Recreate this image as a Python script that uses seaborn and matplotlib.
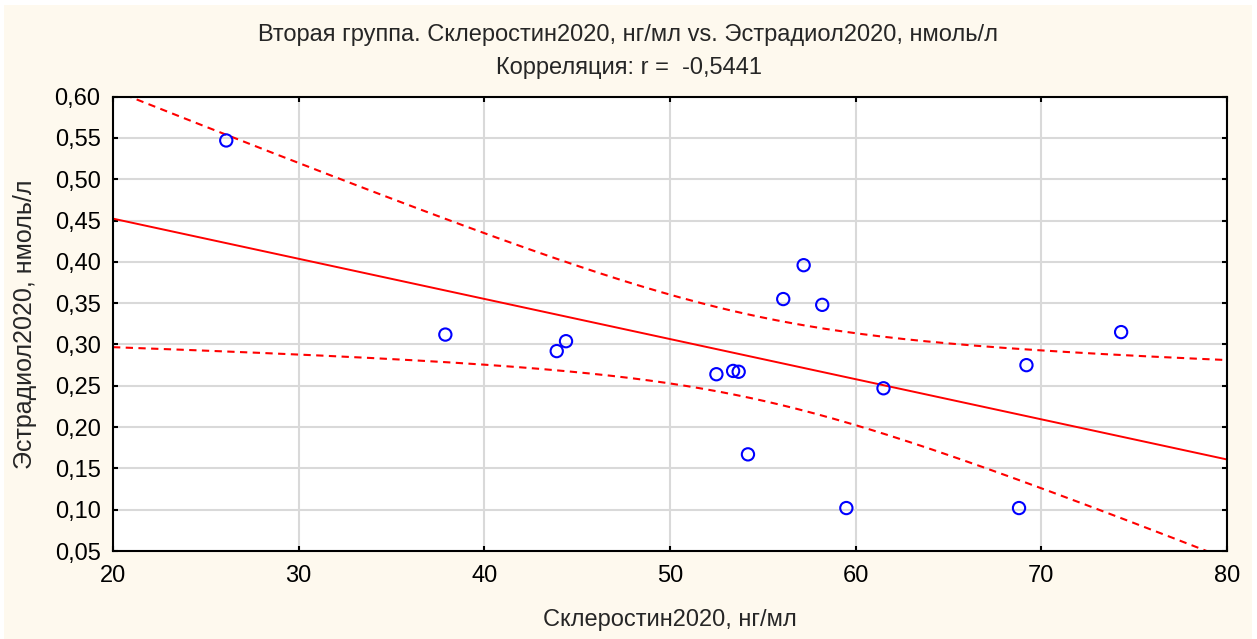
import matplotlib
matplotlib.use('Agg')
import matplotlib.pyplot as plt
import numpy as np
import pandas as pd
import seaborn as sns
from matplotlib.patches import Rectangle
from matplotlib.ticker import FuncFormatter, MultipleLocator

# values
sclerostin = [26.1, 37.9, 43.9, 44.4, 52.5, 53.4, 53.7, 54.2, 56.1, 57.2,
              58.2, 59.5, 61.5, 69.2, 68.8, 74.3]
estradiol = [0.547, 0.312, 0.292, 0.304, 0.264, 0.268, 0.267, 0.167, 0.355,
             0.396, 0.348, 0.102, 0.247, 0.275, 0.102, 0.315]
r_text = '-0,5441'
t_crit = 2.1448  # t(0.975, df=14)

df = pd.DataFrame({'x': sclerostin, 'y': estradiol})

sns.set_style('ticks')
plt.rcParams['font.family'] = ['Liberation Sans', 'DejaVu Sans']

fig = plt.figure(figsize=(12.57, 6.39), dpi=100)
fig.patch.set_facecolor('white')
fig.patches.append(Rectangle((4 / 1257, 0), 1248 / 1257, 634 / 639,
                             transform=fig.transFigure, facecolor='#FEF9EE',
                             edgecolor='none', zorder=-10))
ax = fig.add_axes([0.0899, 0.1377, 0.8862, 0.711])
ax.set_xlim(20, 80)
ax.set_ylim(0.05, 0.60)

# 95% confidence bands of the regression line
x = df['x'].to_numpy()
y = df['y'].to_numpy()
n = len(x)
slope, intercept = np.polyfit(x, y, 1)
resid = y - (intercept + slope * x)
s = np.sqrt(np.sum(resid**2) / (n - 2))
sxx = np.sum((x - x.mean())**2)
xs = np.linspace(20, 80, 300)
fit = intercept + slope * xs
half = t_crit * s * np.sqrt(1 / n + (xs - x.mean())**2 / sxx)
for band in (fit + half, fit - half):
    ax.plot(xs, band, color='#FF0000', lw=1.5, ls=(0, (3.5, 2.6)), zorder=2)

sns.regplot(x='x', y='y', data=df, ax=ax, ci=None, truncate=False,
            scatter_kws=dict(s=78, facecolors='none', edgecolors='#0000FF',
                             linewidths=1.5, alpha=1, zorder=3),
            line_kws=dict(color='#FF0000', lw=1.4, zorder=2))

ax.set_xlim(20, 80)
ax.set_ylim(0.05, 0.60)
ax.xaxis.set_major_locator(MultipleLocator(10))
ax.yaxis.set_major_locator(MultipleLocator(0.05))
ax.yaxis.set_major_formatter(FuncFormatter(lambda v, p: f'{v:.2f}'.replace('.', ',')))
ax.grid(True, color='#D9D9D9', lw=1.5, zorder=0)
ax.set_axisbelow(True)
ax.set_facecolor('white')
for sp in ax.spines.values():
    sp.set_visible(True)
    sp.set_color('black')
    sp.set_linewidth(1.5)
ax.tick_params(direction='in', length=3.6, width=1.5, top=True, right=True,
               labelsize=17, colors='black')
ax.tick_params(axis='y', pad=9)
ax.tick_params(axis='x', pad=10)
ax.set_xlabel('Склеростин2020, нг/мл', fontsize=17, va='center')
ax.set_ylabel('Эстрадиол2020, нмоль/л', fontsize=18, va='center', ha='center')
ax.xaxis.set_label_coords(0.5, (551 - 620) / 454)
ax.yaxis.set_label_coords((25 - 113) / 1114, 0.5)

fig.text(0.5, 1 - 35 / 639, 'Вторая группа. Склеростин2020, нг/мл vs. Эстрадиол2020, нмоль/л',
         ha='center', va='center', fontsize=17)
fig.text(0.5, 1 - 68 / 639, f'Корреляция: r =  {r_text}',
         ha='center', va='center', fontsize=17)

fig.savefig('out.png', dpi=100, facecolor=fig.get_facecolor())
